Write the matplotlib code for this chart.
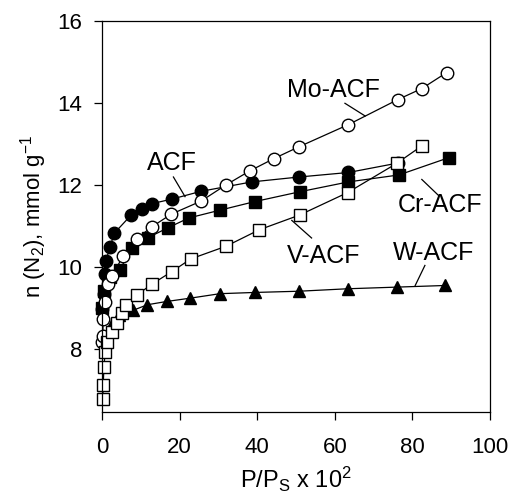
import matplotlib
matplotlib.use("Agg")
import matplotlib.pyplot as plt

plt.rcParams['font.family'] = ['Liberation Sans', 'DejaVu Sans']
plt.rcParams['mathtext.default'] = 'regular'

# isotherm data (P/Ps x 100, mmol/g)
acf_x = [0.1, 0.4, 0.7, 1.0, 2.1, 3.1, 7.6, 10.3, 12.9, 18.0, 25.5, 38.6, 50.8, 63.5, 76.2]
acf_y = [8.97, 9.34, 9.83, 10.15, 10.48, 10.81, 11.27, 11.42, 11.54, 11.65, 11.84, 12.07, 12.19, 12.30, 12.53]

mo_x = [0.05, 0.2, 0.3, 0.8, 1.5, 2.5, 5.5, 8.9, 12.8, 17.8, 25.5, 32.0, 38.1, 44.3, 50.8, 63.5, 76.2, 82.4, 88.8]
mo_y = [8.15, 8.31, 8.72, 9.13, 9.57, 9.78, 10.26, 10.68, 10.97, 11.28, 11.60, 12.00, 12.34, 12.64, 12.93, 13.47, 14.08, 14.35, 14.74]

cr_x = [0.1, 0.5, 2.0, 4.6, 7.8, 11.9, 17.0, 22.4, 30.4, 39.4, 51.0, 63.5, 76.5, 89.3]
cr_y = [9.00, 9.40, 9.75, 9.93, 10.46, 10.71, 10.95, 11.19, 11.38, 11.59, 11.83, 12.07, 12.24, 12.66]

v_x = [0.2, 0.3, 0.5, 0.8, 1.2, 2.5, 3.8, 5.1, 6.3, 8.9, 12.8, 18.0, 22.9, 32.0, 40.5, 50.9, 63.3, 75.9, 82.4]
v_y = [6.77, 7.10, 7.54, 7.91, 8.15, 8.40, 8.62, 8.87, 9.07, 9.30, 9.57, 9.88, 10.19, 10.50, 10.90, 11.26, 11.81, 12.52, 12.95]

w_x = [1.0, 2.5, 4.5, 7.9, 11.7, 16.7, 22.7, 30.4, 39.4, 50.8, 63.3, 75.9, 88.4]
w_y = [8.30, 8.60, 8.82, 8.93, 9.07, 9.15, 9.23, 9.34, 9.37, 9.40, 9.46, 9.50, 9.54]

fig = plt.figure(figsize=(5.1, 5.0), dpi=100)
ax = fig.add_axes([0.2, 0.176, 0.761, 0.782])

kw = dict(color='black', lw=0.9, ms=9, mew=1.0, clip_on=False)
ax.plot(acf_x, acf_y, marker='o', mfc='black', mec='black', **kw)
ax.plot(cr_x, cr_y, marker='s', mfc='black', mec='black', **kw)
ax.plot(w_x, w_y, marker='^', mfc='black', mec='black', **kw)
ax.plot(mo_x, mo_y, marker='o', mfc='white', mec='black', **kw)
ax.plot(v_x, v_y, marker='s', mfc='white', mec='black', **kw)

# series labels with leader lines
labels = [
    ('Mo-ACF', 59.6, 14.31, [62.6, 67.8], [13.99, 13.68]),
    ('ACF', 18.0, 12.52, [18.4, 21.4], [12.19, 11.71]),
    ('Cr-ACF', 87.1, 11.50, [82.4, 86.7], [12.13, 11.74]),
    ('V-ACF', 57.0, 10.27, [48.9, 54.0], [11.13, 10.70]),
    ('W-ACF', 85.4, 10.33, [83.2, 80.7], [10.03, 9.54]),
]
for txt, tx, ty, lx, ly in labels:
    ax.text(tx, ty, txt, fontsize=18, ha='center', va='center')
    ax.plot(lx, ly, color='black', lw=0.9)

ax.set_xlim(0, 100)
ax.set_ylim(6.45, 16)
ax.set_xticks([0, 20, 40, 60, 80, 100])
ax.set_yticks([8, 10, 12, 14, 16])
ax.tick_params(direction='out', length=6, width=0.9, labelsize=16)
ax.tick_params(axis='x', pad=12)
ax.tick_params(axis='y', pad=8)
for s in ax.spines.values():
    s.set_linewidth(0.9)

ax.set_xlabel('P/P$_S$ x 10$^2$', fontsize=17, labelpad=5)
ax.set_ylabel('n (N$_2$), mmol g$^{-1}$', fontsize=16, labelpad=6)

fig.savefig('out.png', dpi=100)
